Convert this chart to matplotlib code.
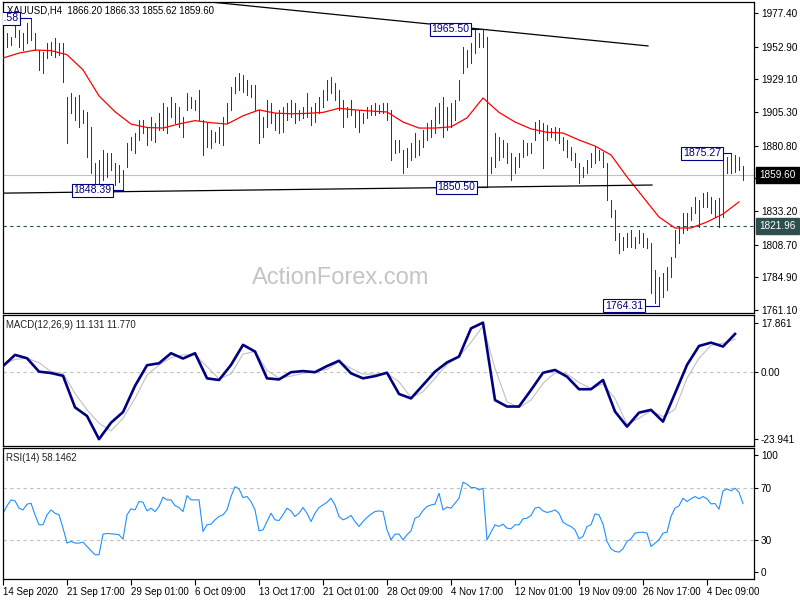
import matplotlib
matplotlib.use('Agg')
import matplotlib.pyplot as plt
import matplotlib.transforms as mtransforms
import numpy as np

plt.rcParams['font.family'] = ['Liberation Sans', 'DejaVu Sans']

# ------ Data ------
title_main = 'XAUUSD,H4  1866.20 1866.33 1855.62 1859.60'
title_macd = 'MACD(12,26,9) 11.131 11.770'
title_rsi = 'RSI(14) 58.1462'

highs = [1949.0, 1962.8, 1960.0, 1970.0, 1965.0, 1962.8, 1970.0, 1973.6, 1962.8, 1950.5,
         1949.0, 1955.6, 1956.3, 1959.2, 1955.6, 1955.6, 1916.2, 1919.1, 1916.2, 1917.7,
         1906.8, 1905.3, 1894.4, 1868.2, 1870.3, 1877.6, 1875.4, 1875.4, 1868.2, 1866.7,
         1863.1, 1882.7, 1887.1, 1890.0, 1899.5, 1899.5, 1894.4, 1901.7, 1897.3, 1904.6,
         1911.9, 1909.0, 1916.2, 1911.9, 1909.0, 1901.7, 1919.1, 1916.2, 1914.1, 1921.3,
         1899.5, 1897.3, 1892.2, 1890.8, 1894.4, 1901.7, 1911.9, 1923.5, 1930.8, 1933.7,
         1932.2, 1928.6, 1925.0, 1925.0, 1906.8, 1901.7, 1914.1, 1911.9, 1904.6, 1906.8,
         1909.0, 1911.9, 1914.1, 1911.9, 1906.8, 1909.0, 1919.1, 1909.0, 1911.9, 1916.2,
         1921.3, 1928.6, 1930.8, 1926.4, 1921.3, 1914.1, 1909.0, 1914.1, 1906.8, 1906.8,
         1904.6, 1909.0, 1910.4, 1911.9, 1910.4, 1911.9, 1911.9, 1906.8, 1884.9, 1884.9,
         1877.6, 1879.0, 1882.7, 1890.0, 1884.9, 1892.2, 1897.3, 1899.5, 1909.0, 1911.9,
         1916.2, 1909.0, 1911.9, 1914.1, 1928.6, 1952.6, 1950.5, 1955.6, 1965.0, 1962.8,
         1965.5, 1959.9, 1872.5, 1890.0, 1887.1, 1884.9, 1882.7, 1875.4, 1872.5, 1875.4,
         1884.9, 1882.7, 1882.7, 1898.0, 1899.5, 1897.3, 1895.8, 1893.6, 1894.4, 1893.6,
         1887.1, 1884.9, 1879.8, 1875.4, 1868.2, 1865.3, 1870.3, 1875.4, 1879.8, 1877.6,
         1876.2, 1868.2, 1841.2, 1833.9, 1817.2, 1814.3, 1817.2, 1819.4, 1814.3, 1819.4,
         1817.2, 1813.6, 1809.9, 1790.2, 1785.2, 1788.0, 1792.4, 1799.7, 1819.4, 1821.6,
         1831.7, 1831.7, 1836.1, 1843.4, 1841.2, 1846.3, 1847.0, 1843.4, 1841.2, 1842.7,
         1870.3, 1872.5, 1875.3, 1873.9, 1872.5, 1866.3]

lows = [1939.5, 1952.6, 1954.0, 1960.0, 1952.6, 1950.5, 1955.6, 1957.7, 1950.5, 1935.9,
        1933.7, 1944.6, 1946.8, 1945.4, 1946.8, 1927.1, 1882.7, 1904.6, 1899.5, 1894.4,
        1897.3, 1872.5, 1860.9, 1850.7, 1853.6, 1855.8, 1858.0, 1863.1, 1852.2, 1854.3,
        1848.4, 1865.3, 1877.6, 1875.4, 1884.9, 1890.0, 1881.3, 1884.9, 1883.5, 1892.2,
        1892.2, 1890.0, 1901.7, 1897.3, 1894.4, 1887.1, 1906.8, 1908.2, 1906.8, 1899.5,
        1874.0, 1879.8, 1879.0, 1883.5, 1882.7, 1881.3, 1897.3, 1906.8, 1919.1, 1921.3,
        1919.9, 1917.7, 1916.2, 1906.8, 1882.7, 1887.1, 1894.4, 1897.3, 1892.2, 1890.0,
        1890.8, 1899.5, 1901.7, 1897.3, 1899.5, 1901.0, 1901.7, 1895.8, 1898.0, 1904.6,
        1909.0, 1914.1, 1919.1, 1914.1, 1906.8, 1894.4, 1901.7, 1903.1, 1894.4, 1890.8,
        1897.3, 1901.0, 1903.1, 1903.1, 1904.6, 1904.6, 1899.5, 1870.3, 1875.4, 1876.2,
        1860.9, 1865.3, 1870.3, 1872.5, 1874.0, 1879.8, 1884.9, 1887.1, 1890.0, 1897.3,
        1887.1, 1892.2, 1894.4, 1899.5, 1914.1, 1933.7, 1938.1, 1941.0, 1948.3, 1952.6,
        1952.6, 1850.5, 1860.9, 1865.3, 1870.3, 1872.5, 1868.2, 1855.8, 1860.9, 1865.3,
        1872.5, 1874.0, 1875.4, 1884.9, 1890.0, 1864.5, 1884.9, 1887.1, 1884.9, 1882.7,
        1877.6, 1872.5, 1870.3, 1865.3, 1853.6, 1858.0, 1860.9, 1865.3, 1868.2, 1870.3,
        1865.3, 1841.2, 1828.8, 1812.1, 1802.6, 1804.8, 1807.0, 1807.0, 1806.2, 1809.9,
        1807.0, 1806.2, 1773.5, 1766.2, 1764.3, 1770.6, 1775.7, 1785.1, 1799.7, 1809.9,
        1817.2, 1819.4, 1826.6, 1831.7, 1821.6, 1836.1, 1836.1, 1831.7, 1828.8, 1821.6,
        1828.8, 1860.9, 1860.9, 1861.6, 1863.1, 1855.6]

# moving average, one value every 4 bars
ma_step = 4
ma_values = [1944.6, 1948.2, 1950.4, 1950.0, 1947.0, 1936.0, 1917.0, 1905.5, 1896.5, 1894.0,
             1893.6, 1896.6, 1899.0, 1897.5, 1896.5, 1902.5, 1906.8, 1904.5, 1904.0, 1904.3,
             1905.0, 1908.0, 1906.8, 1906.0, 1905.3, 1898.0, 1893.6, 1893.6, 1894.5, 1901.0,
             1915.5, 1905.0, 1898.0, 1893.0, 1890.5, 1890.0, 1884.9, 1880.5, 1874.0, 1858.0,
             1843.4, 1828.8, 1820.8, 1820.8, 1825.2, 1831.0, 1839.8]

# MACD, one value every 3 bars
macd_step = 3
macd_main = [2.3, 6.3, 5.1, 0.3, -0.2, -1.2, -12.5, -15.6, -23.9, -18.0,
             -14.2, -4.8, 2.6, 3.3, 6.9, 5.0, 6.9, -2.1, -2.7, 2.7,
             9.9, 7.5, -2.1, -2.5, 0.1, 0.5, 0.1, 2.3, 4.2, -0.3,
             -2.1, -1.3, -0.1, -7.7, -9.3, -4.5, 0.3, 3.6, 5.7, 15.8,
             17.86, -9.9, -12.2, -12.2, -6.3, -0.1, 0.9, -1.5, -6.0, -6.0,
             -2.7, -14.0, -19.4, -14.4, -13.4, -17.6, -7.5, 2.7, 9.5, 10.7,
             9.3, 13.8]
macd_signal = [2.7, 4.7, 5.1, 3.5, 0.3, -0.3, -7.5, -13.4, -18.2, -20.9,
               -16.4, -9.3, -0.9, 2.7, 5.3, 6.3, 6.3, 2.1, -2.3, -0.5,
               6.6, 7.5, 0.7, -2.0, -1.3, -0.3, 0.3, 1.1, 3.9, 1.5,
               -0.6, -0.6, -0.3, -3.3, -9.0, -6.9, -2.1, 2.9, 5.7, 10.8,
               16.7, 1.5, -10.5, -12.6, -9.9, -3.9, -0.1, -0.5, -3.6, -5.7,
               -4.1, -9.3, -18.6, -16.4, -13.7, -15.8, -13.2, -2.1, 5.1, 9.7,
               10.5, 11.9]

rsi = [50.7, 56.4, 61.0, 60.2, 54.6, 53.3, 57.7, 58.4, 49.5, 41.8,
       41.8, 49.5, 53.3, 50.7, 49.5, 39.2, 27.7, 29.0, 27.7, 27.7,
       28.4, 25.1, 21.8, 18.7, 18.7, 34.6, 35.1, 34.8, 34.6, 34.1,
       30.7, 49.5, 54.1, 53.3, 59.7, 59.2, 52.5, 54.6, 52.0, 55.9,
       63.1, 61.0, 61.0, 56.6, 55.1, 52.0, 64.3, 61.0, 61.0, 61.0,
       36.6, 41.8, 42.3, 45.6, 48.2, 49.5, 53.3, 63.6, 71.2, 69.5,
       62.8, 63.6, 59.7, 53.3, 37.1, 37.9, 44.3, 50.7, 45.6, 45.1,
       49.5, 54.6, 52.5, 48.2, 50.7, 55.1, 50.7, 44.3, 50.7, 55.1,
       57.1, 59.2, 62.3, 57.1, 48.2, 45.6, 46.9, 49.0, 44.3, 40.5,
       44.3, 47.4, 50.0, 52.0, 52.5, 52.0, 37.9, 30.2, 34.6, 34.6,
       30.2, 34.1, 37.1, 46.9, 48.2, 52.8, 55.9, 57.1, 57.7, 66.1,
       53.3, 55.4, 54.6, 58.4, 62.3, 74.6, 73.1, 70.5, 70.5, 68.7,
       70.0, 30.2, 36.1, 41.8, 40.5, 42.3, 39.2, 38.7, 41.8, 41.8,
       46.4, 46.9, 49.0, 54.6, 55.4, 52.5, 51.3, 52.0, 53.3, 50.7,
       43.8, 41.8, 40.5, 37.9, 31.0, 32.8, 40.5, 41.8, 50.2, 49.5,
       42.3, 29.0, 23.3, 21.3, 20.7, 23.3, 29.0, 31.0, 35.4, 35.9,
       36.1, 35.4, 25.1, 27.7, 30.2, 35.4, 36.1, 48.2, 54.6, 56.4,
       62.3, 59.7, 61.8, 63.6, 61.8, 63.6, 61.8, 57.9, 58.2, 53.8,
       67.9, 69.5, 67.9, 70.0, 66.9, 58.1]

price_ticks = [1977.40, 1952.90, 1929.10, 1905.30, 1880.80, 1857.00, 1833.20, 1808.70, 1784.90, 1761.10]
macd_ticks = [17.861, 0.0, -23.941]
macd_tick_labels = ['17.861', '0.00', '-23.941']
rsi_levels = [70, 30]
rsi_tick_pos = [95.4, 70, 30, 5.4]
rsi_tick_labels = ['100', '70', '30', '0']

date_step = 16
date_labels = ['14 Sep 2020', '21 Sep 17:00', '29 Sep 01:00', '6 Oct 09:00', '13 Oct 17:00',
               '21 Oct 01:00', '28 Oct 09:00', '4 Nov 17:00', '12 Nov 01:00', '19 Nov 09:00',
               '26 Nov 17:00', '4 Dec 09:00']

current_price = 1859.60
support_level = 1821.96

# trendlines (bar index, price)
upper_tl_x, upper_tl_y = [30, 161.25], [1991.8, 1953.4]
lower_tl_x, lower_tl_y = [0, 162.25], [1846.2, 1852.1]

# swing labels: text, box right edge (bar idx), bar idx, price
swing_labels = [('1973.58', 4.25, 7, 1973.58),
                ('1848.39', 27.5, 30, 1848.39),
                ('1965.50', 117.0, 120, 1965.50),
                ('1850.50', 118.5, 121, 1850.50),
                ('1764.31', 160.5, 164, 1764.31),
                ('1875.27', 180.0, 182, 1875.27)]

# ------ Style ------
bar_color = '#173f5f'
navy = '#000080'
fs = 7.2
n = len(highs)
idx = np.arange(n)
xlim = (-0.075, 187.75)

fig = plt.figure(figsize=(8, 6), dpi=100)
ax1 = fig.add_axes([0.0034, 0.47833, 0.9391, 0.51833])
ax2 = fig.add_axes([0.0034, 0.25667, 0.9391, 0.21833])
ax3 = fig.add_axes([0.0034, 0.035, 0.9391, 0.21833])


def frame(ax):
    for s in ax.spines.values():
        s.set_color('black')
        s.set_linewidth(0.9)
    ax.set_xlim(*xlim)
    ax.yaxis.tick_right()
    ax.tick_params(axis='y', direction='out', length=3, width=0.8, pad=2, labelsize=fs, colors='black')
    ax.tick_params(axis='x', bottom=False, labelbottom=False)


for ax in (ax1, ax2, ax3):
    frame(ax)

# ------ Price panel ------
ax1.set_ylim(1758.9, 1985.4)
ax1.set_yticks(price_ticks)
ax1.set_yticklabels(['%.2f' % p for p in price_ticks])

ax1.axhline(current_price, color='#c0c0c0', lw=0.8, zorder=1)
ax1.axhline(support_level, color='#2f4f4f', lw=0.8, ls=(0, (3, 3)), zorder=1)

ax1.vlines(idx, lows, highs, color=bar_color, lw=0.45, antialiased=False, zorder=2)
ax1.plot(np.arange(0, n, ma_step), ma_values, color='red', lw=0.9, zorder=3)

ax1.plot(upper_tl_x, upper_tl_y, color='black', lw=0.9, zorder=3)
ax1.plot(lower_tl_x, lower_tl_y, color='black', lw=0.9, zorder=3)

for txt, box_right, bar_i, price in swing_labels:
    ax1.plot([box_right, bar_i], [price, price], color=navy, lw=0.8, zorder=4)
    ax1.text(box_right - 0.45, price, txt, ha='right', va='center', fontsize=7.6, color=navy,
             clip_on=True, zorder=5,
             bbox=dict(boxstyle='square,pad=0.15', fc='white', ec=navy, lw=0.8))

ax1.text(0.0057, 0.974, title_main, transform=ax1.transAxes, ha='left', va='center',
         fontsize=6.9, color='black')
ax1.text(0.45, 0.112, 'ActionForex.com', transform=ax1.transAxes, ha='center', va='center',
         fontsize=17, color='#c4c4c4', zorder=1)

yx = mtransforms.blended_transform_factory(ax1.transAxes, ax1.transData)
ax1.text(1.007, current_price, '%.2f' % current_price, transform=yx, ha='left', va='center',
         fontsize=fs, color='white', clip_on=False, zorder=6,
         bbox=dict(boxstyle='square,pad=0.3', fc='black', ec='black'))
ax1.text(1.007, support_level, '%.2f' % support_level, transform=yx, ha='left', va='center',
         fontsize=fs, color='white', clip_on=False, zorder=6,
         bbox=dict(boxstyle='square,pad=0.3', fc='#2f4f4f', ec='#2f4f4f'))

# ------ MACD panel ------
ax2.set_ylim(-26.35, 20.6)
ax2.set_yticks(macd_ticks)
ax2.set_yticklabels(macd_tick_labels)
ax2.axhline(0, color='#c0c0c0', lw=0.8, ls=(0, (3, 3)), zorder=1)
mx = np.arange(0, n, macd_step)
ax2.plot(mx, macd_signal, color='#c0c0c0', lw=0.8, zorder=2)
ax2.plot(mx, macd_main, color=navy, lw=1.9, zorder=3)
ax2.text(0.0045, 0.924, title_macd, transform=ax2.transAxes, ha='left', va='center',
         fontsize=6.9, color='#202020')

# ------ RSI panel ------
ax3.set_ylim(0, 101)
ax3.set_yticks(rsi_tick_pos)
ax3.set_yticklabels(rsi_tick_labels)
for lvl in rsi_levels:
    ax3.axhline(lvl, color='#c0c0c0', lw=0.8, ls=(0, (3, 3)), zorder=1)
ax3.plot(idx, rsi, color='#1e90ff', lw=0.8, zorder=2)
ax3.text(0.0045, 0.924, title_rsi, transform=ax3.transAxes, ha='left', va='center',
         fontsize=6.9, color='#202020')

ax3.tick_params(axis='x', bottom=True, labelbottom=True, direction='out', length=4,
                width=0.8, pad=1.5, labelsize=7.0, colors='black')
ax3.set_xticks(np.arange(0, date_step * len(date_labels), date_step))
ax3.set_xticklabels(date_labels)
for lbl in ax3.get_xticklabels():
    lbl.set_horizontalalignment('left')

fig.savefig('out.png', dpi=100)
